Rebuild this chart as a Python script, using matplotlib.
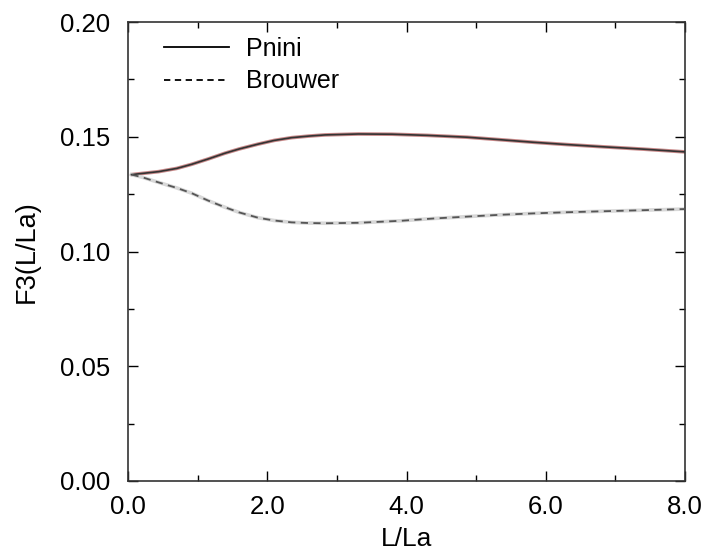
import matplotlib
matplotlib.use("Agg")
import matplotlib.pyplot as plt
import numpy as np
from matplotlib.ticker import MultipleLocator, FormatStrFormatter

plt.rcParams['font.family'] = ['Liberation Sans', 'DejaVu Sans']

# Data
L_pnini = [0.05, 0.44, 0.7, 0.915, 1.15, 1.39, 1.6, 1.87, 2.1, 2.35, 2.6, 2.83, 3.31, 3.79, 4.3, 4.87, 5.35, 5.82, 6.3, 6.78, 7.4, 8.0]
F_pnini = [0.1335, 0.1348, 0.1362, 0.1380, 0.1403, 0.1428, 0.1447, 0.1468, 0.1484, 0.1496, 0.1503, 0.1508, 0.1512, 0.1511, 0.1506, 0.1498, 0.1487, 0.1476, 0.1466, 0.1457, 0.1446, 0.1434]

L_brouwer = [0.05, 0.2, 0.44, 0.7, 0.915, 1.15, 1.39, 1.6, 1.87, 2.1, 2.35, 2.6, 2.83, 3.31, 3.93, 4.4, 4.87, 5.35, 5.82, 6.3, 6.78, 7.4, 8.0]
F_brouwer = [0.1335, 0.1324, 0.1301, 0.1277, 0.1254, 0.1222, 0.1193, 0.1170, 0.1147, 0.1135, 0.1127, 0.1124, 0.1123, 0.1125, 0.1134, 0.1144, 0.1152, 0.1160, 0.1166, 0.1171, 0.1175, 0.1180, 0.1185]

series_labels = ["Pnini", "Brouwer"]
xticks = [0.0, 2.0, 4.0, 6.0, 8.0]
yticks = [0.00, 0.05, 0.10, 0.15, 0.20]

fig = plt.figure(figsize=(7.06, 5.53), dpi=100)
ax = fig.add_axes([128/706, 1-481/553, (685-128)/706, (481-22)/553])

# underlying faint lines
ax.plot(L_pnini, F_pnini, color='#c98a8a', lw=2.6, solid_capstyle='round', zorder=2)
ax.plot(L_pnini, F_pnini, color='#333333', lw=1.2, zorder=3, label=series_labels[0])
ax.plot(L_brouwer, F_brouwer, color='#d8d8d8', lw=2.6, zorder=2)
ax.plot(L_brouwer, F_brouwer, color='#555555', lw=1.3, ls=(0, (4, 3)), zorder=3)

# legend handles (pure black)
h1, = ax.plot([], [], color='black', lw=1.3)
h2, = ax.plot([], [], color='black', lw=1.3, ls=(0, (3.5, 2.5)))
leg = ax.legend([h1, h2], series_labels, loc='upper left', frameon=False,
                fontsize=18, handlelength=2.6, handletextpad=0.7,
                labelspacing=0.35, bbox_to_anchor=(0.046, 0.99), borderaxespad=0)

ax.set_xlim(0, 8)
ax.set_ylim(0, 0.20)
ax.set_xticks(xticks)
ax.set_yticks(yticks)
ax.xaxis.set_major_formatter(FormatStrFormatter('%.1f'))
ax.yaxis.set_major_formatter(FormatStrFormatter('%.2f'))
ax.xaxis.set_minor_locator(MultipleLocator(1.0))
ax.yaxis.set_minor_locator(MultipleLocator(0.025))
ax.tick_params(which='both', direction='in', top=True, right=True, width=1.0, colors='black')
ax.tick_params(which='major', length=7)
ax.tick_params(which='minor', length=4)
ax.tick_params(axis='x', which='major', labelsize=18.5, pad=10)
ax.tick_params(axis='y', which='major', labelsize=18.5, pad=13)
for s in ax.spines.values():
    s.set_linewidth(1.2)
    s.set_color('#333333')

ax.set_xlabel("L/La", fontsize=19, labelpad=6)
ax.set_ylabel("F3(L/La)", fontsize=19.5, labelpad=14)

fig.savefig("out.png", dpi=100)
